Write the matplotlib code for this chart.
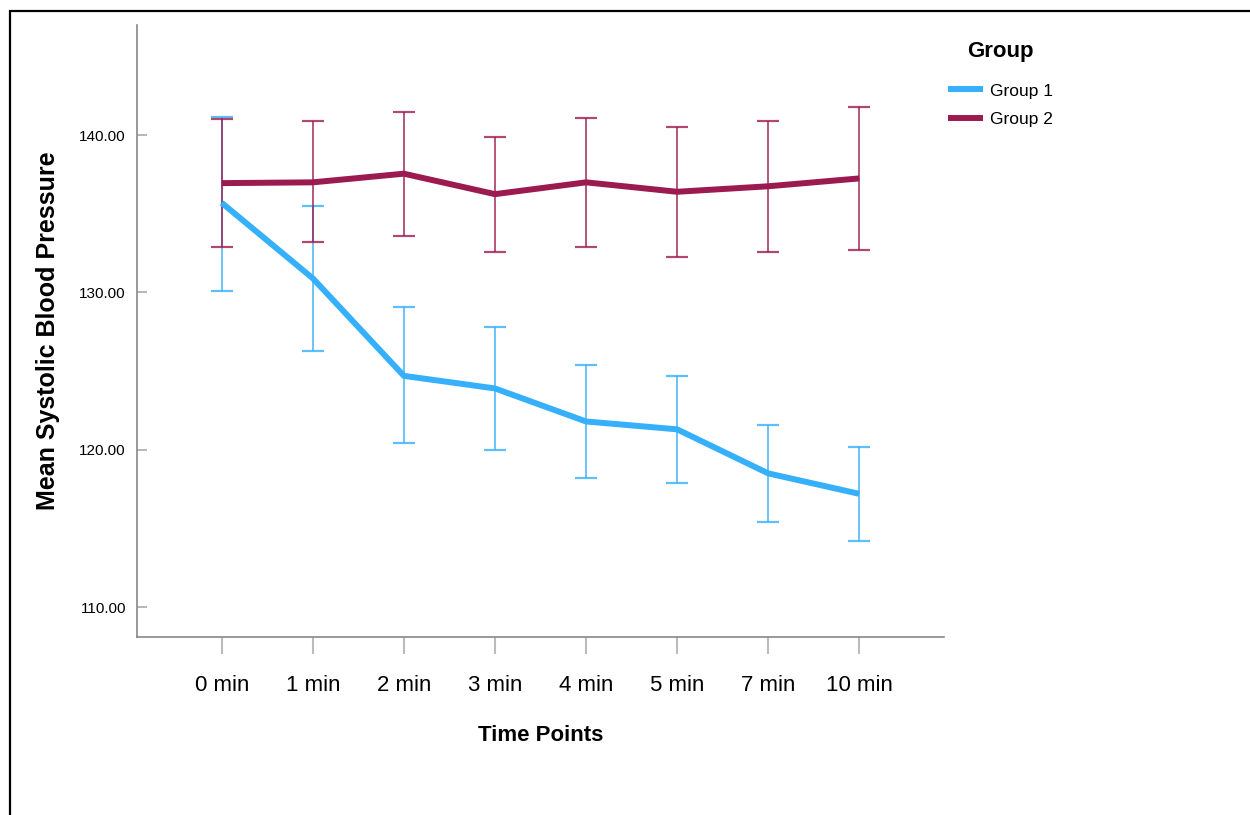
import matplotlib.pyplot as plt
from matplotlib.patches import Rectangle
import numpy as np

plt.rcParams['font.family'] = ['Liberation Sans', 'DejaVu Sans']

# data
time_labels = ["0 min", "1 min", "2 min", "3 min", "4 min", "5 min", "7 min", "10 min"]

g1_mean = [135.7, 130.9, 124.7, 123.9, 121.8, 121.3, 118.5, 117.2]
g1_upper = [141.15, 135.5, 129.1, 127.8, 125.4, 124.7, 121.6, 120.2]
g1_lower = [130.1, 126.3, 120.4, 120.0, 118.2, 117.9, 115.4, 114.2]

g2_mean = [136.95, 137.0, 137.55, 136.25, 137.0, 136.4, 136.75, 137.25]
g2_upper = [141.0, 140.9, 141.5, 139.9, 141.1, 140.5, 140.9, 141.8]
g2_lower = [132.9, 133.2, 133.6, 132.6, 132.9, 132.25, 132.6, 132.7]

c1 = "#36B0FB"
c2 = "#9B1B50"

fig = plt.figure(figsize=(12.5, 8.15), dpi=100)
ax = fig.add_axes([0.1096, 0.2184, 0.6456, 0.7509])

x = np.arange(len(time_labels))

for mean, lo, hi, col in [(g1_mean, g1_lower, g1_upper, c1), (g2_mean, g2_lower, g2_upper, c2)]:
    mean = np.array(mean)
    yerr = [mean - np.array(lo), np.array(hi) - mean]
    ax.errorbar(x, mean, yerr=yerr, fmt='none', ecolor=col, elinewidth=1.3,
                capsize=8, capthick=1.6, alpha=0.8)

ax.plot(x, g1_mean, color=c1, lw=4.3, solid_capstyle='butt', label="Group 1")
ax.plot(x, g2_mean, color=c2, lw=4.3, solid_capstyle='butt', label="Group 2")

ax.set_xlim(-0.93, 7.93)
ax.set_ylim(108.1, 147)
ax.set_yticks([110, 120, 130, 140])
ax.set_yticklabels([f"{v:.2f}" for v in [110, 120, 130, 140]], fontsize=11)
ax.set_xticks(x)
ax.set_xticklabels(time_labels, fontsize=16)

for s in ["top", "right"]:
    ax.spines[s].set_visible(False)
for s in ["left", "bottom"]:
    ax.spines[s].set_color("#888888")
    ax.spines[s].set_linewidth(1.2)

ax.tick_params(axis='y', direction='in', length=7, color="#aaaaaa", width=1.2, pad=8)
ax.tick_params(axis='x', direction='out', length=12, color="#bbbbbb", width=1.5, pad=15)

ax.set_xlabel("Time Points", fontsize=16, fontweight='bold', labelpad=21)
ax.set_ylabel("Mean Systolic Blood Pressure", fontsize=18, fontweight='bold', labelpad=14)

leg = fig.legend(loc='upper left', bbox_to_anchor=(0.746, 0.969), frameon=False,
                 title="Group", fontsize=12.5, handlelength=2.0, handletextpad=0.4,
                 labelspacing=0.75)
leg.get_title().set_fontweight('bold')
leg.get_title().set_fontsize(16)
leg._legend_box.align = "center"
leg._legend_box.sep = 15.5

# outer frame like the screenshot
fig.patches.append(Rectangle((10 / 1250, -0.05), 1.2, 1 - 11 / 815 + 0.05,
                             transform=fig.transFigure, fill=False,
                             edgecolor='black', lw=1.6))

fig.savefig("out.png", dpi=100)
